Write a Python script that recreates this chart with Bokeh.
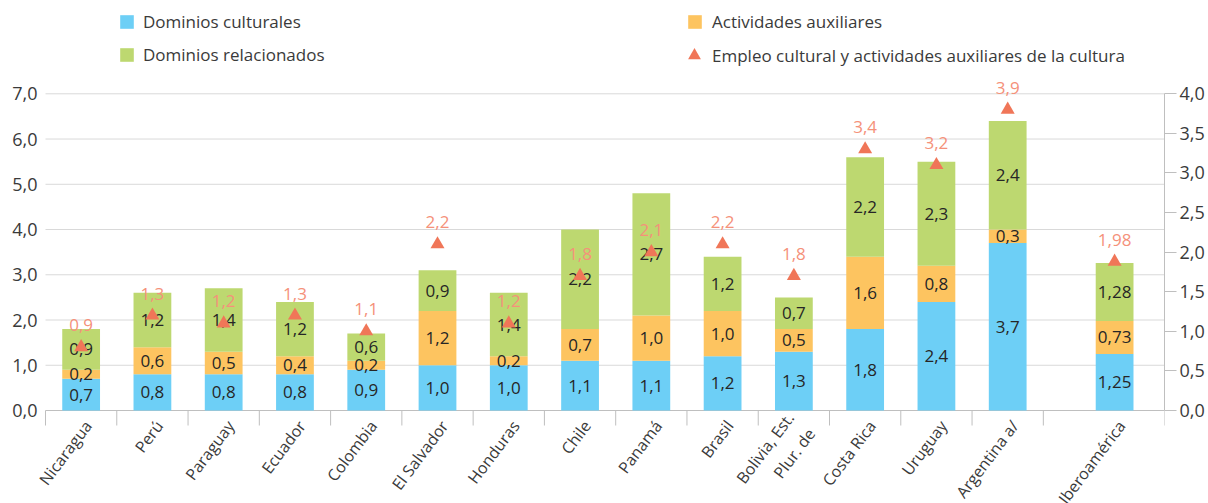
import math
import numpy as np
from bokeh.plotting import figure
from bokeh.models import (ColumnDataSource, Range1d, LinearAxis, FixedTicker,
                          CustomJSTickFormatter, Legend, LegendItem, LabelSet)
from bokeh.transform import dodge
from bokeh.core.properties import value
from bokeh.embed import file_html
from bokeh.resources import INLINE

# ---------------- data ----------------
countries = ["Nicaragua", "Perú", "Paraguay", "Ecuador", "Colombia", "El Salvador",
             "Honduras", "Chile", "Panamá", "Brasil", "Bolivia, Est.\nPlur. de",
             "Costa Rica", "Uruguay", "Argentina a/", "Iberoamérica"]
culturales = [0.7, 0.8, 0.8, 0.8, 0.9, 1.0, 1.0, 1.1, 1.1, 1.2, 1.3, 1.8, 2.4, 3.7, 1.25]
auxiliares = [0.2, 0.6, 0.5, 0.4, 0.2, 1.2, 0.2, 0.7, 1.0, 1.0, 0.5, 1.6, 0.8, 0.3, 0.73]
relacionados = [0.9, 1.2, 1.4, 1.2, 0.6, 0.9, 1.4, 2.2, 2.7, 1.2, 0.7, 2.2, 2.3, 2.4, 1.28]
empleo = [0.9, 1.3, 1.2, 1.3, 1.1, 2.2, 1.2, 1.8, 2.1, 2.2, 1.8, 3.4, 3.2, 3.9, 1.98]
left_ticks = [0, 1, 2, 3, 4, 5, 6, 7]
right_ticks = [0, 0.5, 1, 1.5, 2, 2.5, 3, 3.5, 4]

legend_names = ["Dominios culturales", "Actividades auxiliares", "Dominios relacionados",
                "Empleo cultural y actividades auxiliares de la cultura"]

# ---------------- styles / layout ----------------
C_BLUE = "#6DCFF6"
C_ORANGE = "#FDC460"
C_GREEN = "#BDD870"
C_TRI = "#F07658"
C_TRI_TXT = "#F5917A"
FONT = "Open Sans"
GRID = "#D9D9D9"
AXC = "#BFBFBF"
TXT = "#3A3A3A"

W, H = 1208, 503
FRAME_L = 30                     # left edge of the drawing frame (px)
GRID_L, GRID_R = 45, 1164        # extent of the plot area (px)
Y_TOP_PX, Y_ZERO_PX = 93.3, 410  # pixel rows of the 7,0 and 0,0 gridlines
LEFT_MAX, RIGHT_MAX = 7.0, 4.0


def fmt(v):
    s = f"{v:.1f}" if abs(v * 10 - round(v * 10)) < 1e-9 else f"{v:.2f}"
    return s.replace(".", ",")


n = len(countries)
# categories on a numeric axis; the aggregate one is set apart by half a slot
xpos = [float(i) for i in range(n - 1)] + [n - 1 + 0.5]
x_a, x_b = -0.5, n + 0.2          # plot-area extent in category units

cul = np.array(culturales)
aux = np.array(auxiliares)
rel = np.array(relacionados)

src = ColumnDataSource(dict(x=xpos, cul=culturales, aux=auxiliares, rel=relacionados,
                            emp=empleo, name=countries,
                            emp_t=[fmt(v) for v in empleo]))

# the frame spans the full height (and a little extra on the left) so that legend and
# category texts are drawn inside it
u = (Y_ZERO_PX - Y_TOP_PX) / LEFT_MAX
y_hi = LEFT_MAX + Y_TOP_PX / u
y_lo = -(H - Y_ZERO_PX) / u
k = RIGHT_MAX / LEFT_MAX
wx = (GRID_R - GRID_L) / (x_b - x_a)
x_lo = x_a - (GRID_L - FRAME_L) / wx

p = figure(width=W, height=H, output_backend="svg", toolbar_location=None,
           x_range=Range1d(x_lo, x_b), y_range=Range1d(y_lo, y_hi),
           x_axis_location=None,
           min_border_left=FRAME_L, min_border_right=W - GRID_R,
           min_border_top=0, min_border_bottom=0)
p.outline_line_color = None
p.background_fill_color = "white"
p.border_fill_color = "white"
p.extra_y_ranges = {"right": Range1d(y_lo * k, y_hi * k)}
p.xgrid.visible = False
p.ygrid.visible = False

# gridlines limited to the plot area, and the baseline
p.segment(x0=[x_a] * (len(left_ticks) - 1), x1=[x_b] * (len(left_ticks) - 1),
          y0=left_ticks[1:], y1=left_ticks[1:], line_color=GRID, line_width=1)
p.segment(x0=[x_a], x1=[x_b], y0=[0], y1=[0], line_color=AXC, line_width=1)

bars = p.vbar_stack(["cul", "aux", "rel"], x="x", width=0.53, source=src,
                    color=[C_BLUE, C_ORANGE, C_GREEN], line_color=None)

# category separators below the baseline
seps = [i + 0.5 for i in range(-1, n - 1)] + [x_b]
p.ray(x=seps, y=[0] * len(seps), length=15, length_units="screen", angle=-math.pi / 2,
      line_color=AXC, line_width=1)

# segment labels
seg_x, seg_y, seg_t = [], [], []
bottoms = np.zeros(n)
for arr in (cul, aux, rel):
    for i in range(n):
        seg_x.append(xpos[i])
        seg_y.append(bottoms[i] + arr[i] / 2)
        seg_t.append(fmt(arr[i]))
    bottoms = bottoms + arr
seg_src = ColumnDataSource(dict(x=seg_x, y=seg_y, t=seg_t))
p.text(x="x", y="y", text="t", source=seg_src, text_align="center", text_baseline="middle",
       text_font=value(FONT), text_font_size="17px", text_color="#262626")

# triangles (secondary axis)
tri = p.scatter(x="x", y=dodge("emp", -0.1), source=src, marker="triangle", size=14,
                color=C_TRI, line_color=None, y_range_name="right")
p.add_layout(LabelSet(x="x", y="emp", text="emp_t", source=src, y_range_name="right",
                      y_offset=14, text_align="center", text_baseline="middle",
                      text_font=value(FONT), text_font_size="17px", text_color=C_TRI_TXT))

# category names
p.text(x="x", y=0, text="name", source=src, angle=53 * math.pi / 180,
       x_offset=7, y_offset=12, text_align="right", text_baseline="middle",
       text_font=value(FONT), text_font_size="16px", text_color=TXT)

# axes
p.yaxis.ticker = FixedTicker(ticks=left_ticks)
p.yaxis.formatter = CustomJSTickFormatter(code="return tick.toFixed(1).replace('.', ',')")
p.yaxis.axis_line_color = None
p.yaxis.major_tick_line_color = None
p.yaxis.major_tick_out = 0
p.yaxis.major_tick_in = 0
p.yaxis.minor_tick_line_color = None
p.yaxis.minor_tick_out = 0
p.yaxis.major_label_standoff = 38 - FRAME_L - 15
p.yaxis.major_label_text_font = FONT
p.yaxis.major_label_text_font_size = "18px"
p.yaxis.major_label_text_color = TXT

ry = LinearAxis(y_range_name="right", ticker=FixedTicker(ticks=right_ticks),
                formatter=CustomJSTickFormatter(code="return tick.toFixed(1).replace('.', ',')"),
                bounds=(0, RIGHT_MAX))
ry.axis_line_color = AXC
ry.major_tick_line_color = AXC
ry.major_tick_in = 0
ry.major_tick_out = 12
ry.minor_tick_line_color = None
ry.minor_tick_out = 0
ry.major_label_standoff = 3
ry.major_label_text_font = FONT
ry.major_label_text_font_size = "18px"
ry.major_label_text_color = TXT
p.add_layout(ry, "right")


# legends (location = bottom-left corner, measured from the frame's bottom-left)
def mk_legend(label, rend, gx, cy, gw, gh, standoff):
    row = max(gh, 23)
    lg = Legend(items=[LegendItem(label=label, renderers=[rend])],
                location=(gx - FRAME_L, H - (cy + row / 2)),
                glyph_width=gw, glyph_height=gh, label_standoff=standoff,
                padding=0, margin=0, border_line_color=None, background_fill_alpha=0,
                label_text_font=FONT, label_text_font_size="17px", label_text_color=TXT)
    p.add_layout(lg)


mk_legend(legend_names[0], bars[0], 118, 21, 17, 17, 8)
mk_legend(legend_names[2], bars[2], 118, 54, 17, 17, 8)
mk_legend(legend_names[1], bars[1], 686, 21, 17, 17, 9)
mk_legend(legend_names[3], tri, 678, 55, 32, 32, 2)

open("out.html", "w").write(file_html(p, INLINE))
